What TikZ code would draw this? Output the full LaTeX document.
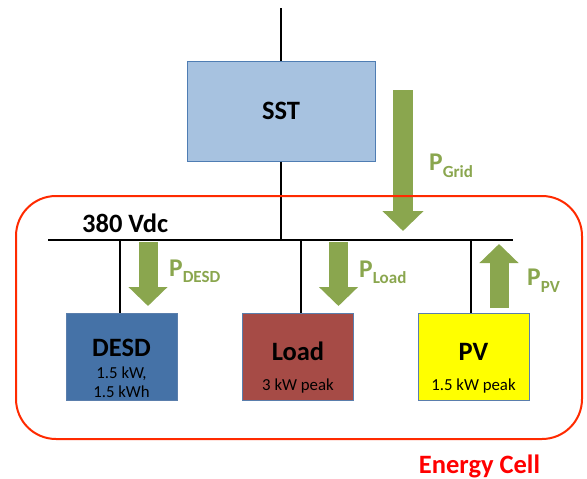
\documentclass[tikz,border=0pt]{standalone}
\usepackage{fontspec}
\setmainfont{Carlito}
\usetikzlibrary{arrows.meta,positioning}

\definecolor{sstfill}{HTML}{A7C2E0}
\definecolor{sstedge}{HTML}{4F7DB3}
\definecolor{desdfill}{HTML}{4572A7}
\definecolor{loadfill}{HTML}{A64B46}
\definecolor{pvfill}{HTML}{FFFF00}
\definecolor{boxedge}{HTML}{5A7EAC}
\definecolor{flowgreen}{HTML}{8AA64E}
\definecolor{cellred}{HTML}{FF2A00}

\newcommand{\powlab}[2][-6.5pt]{{\fontsize{25.5}{30}\selectfont P}\raisebox{#1}{\fontsize{17}{20}\selectfont #2}}

\begin{document}
\begin{tikzpicture}[x=1pt, y=-1pt,
    unit/.style={draw=boxedge, line width=1pt, minimum width=111pt, minimum height=87pt, inner sep=0pt},
    title/.style={font=\fontsize{26.5}{30}\selectfont\bfseries, inner sep=0pt},
    spec/.style={font=\fontsize{16.8}{19}\selectfont, inner sep=0pt, anchor=base},
    wire/.style={line width=1.5pt},
    flow/.style={draw=flowgreen, line width=19pt, -{Triangle[length=19pt 0 0, width=38pt 0 0]}},
    plab/.style={text=flowgreen, font=\bfseries, anchor=base west, inner sep=0pt},
  ]
  \useasboundingbox (0,0) rectangle (587,479);

  % Grid side
  \coordinate (feed) at (281,8);
  \node[draw=sstedge, fill=sstfill, line width=1pt, minimum width=188pt, minimum height=100pt, title] (sst) at (281,111) {SST};

  % DC bus
  \coordinate (busL) at (48,240);
  \coordinate (busR) at (513,240);
  \node[title, anchor=base west] (busname) at (82,232) {380 Vdc};

  % Units on the bus
  \node[unit, fill=desdfill] (desd) at (121.5,356.5) {};
  \node[unit, fill=loadfill] (load) at (298,356.5) {};
  \node[unit, fill=pvfill]   (pv)   at (473.5,356.5) {};

  \node[title, anchor=base] (desdname) at (121.5,356) {DESD};
  \node[spec] (desdpow) at (121.5,378) {1.5 kW,};
  \node[spec] (desdcap) at (121.5,397) {1.5 kWh};
  \node[title, anchor=base] (loadname) at (298,360) {Load};
  \node[spec] (loadpow) at (298,390) {3 kW peak};
  \node[title, anchor=base] (pvname) at (473.5,360) {PV};
  \node[spec] (pvpow) at (473.5,390) {1.5 kW peak};

  % Wiring
  \draw[wire] (feed) -- (sst.north);
  \draw[wire] (sst.south) -- (sst.south |- busL);
  \draw[wire] (busL) -- (busR);
  \draw[wire] (busL -| 120,0) -- (120,0 |- desd.north);
  \draw[wire] (busL -| 301,0) -- (301,0 |- load.north);
  \draw[wire] (busL -| 471,0) -- (471,0 |- pv.north);

  % Power flows
  \coordinate (gridA) at (403,90);   \coordinate (gridB) at (403,231);
  \coordinate (desdA) at (148,242);  \coordinate (desdB) at (148,306);
  \coordinate (loadA) at (338.5,242); \coordinate (loadB) at (338.5,306);
  \coordinate (pvA)   at (499,308);  \coordinate (pvB)   at (499,244);
  \draw[flow, line width=20pt, -{Triangle[length=20pt 0 0, width=40pt 0 0]}] (gridA) -- (gridB);
  \draw[flow] (desdA) -- (desdB);
  \draw[flow] (loadA) -- (loadB);
  \draw[flow] (pvA) -- (pvB);

  \node[plab] (pgrid) at (429,170) {\powlab[-7pt]{Grid}};
  \node[plab] (pdesd) at (169,276) {\powlab{DESD}};
  \node[plab] (pload) at (359,277) {\powlab{Load}};
  \node[plab] (ppv)   at (527,285) {\powlab[-7pt]{PV}};

  % Energy cell
  \node[draw=cellred, line width=2pt, rounded corners=40pt, minimum width=566pt, minimum height=243pt] (cell) at (299,317.5) {};
  \node[title, anchor=base, text=red] (cellname) at (479.5,473) {Energy Cell};
\end{tikzpicture}
\end{document}
